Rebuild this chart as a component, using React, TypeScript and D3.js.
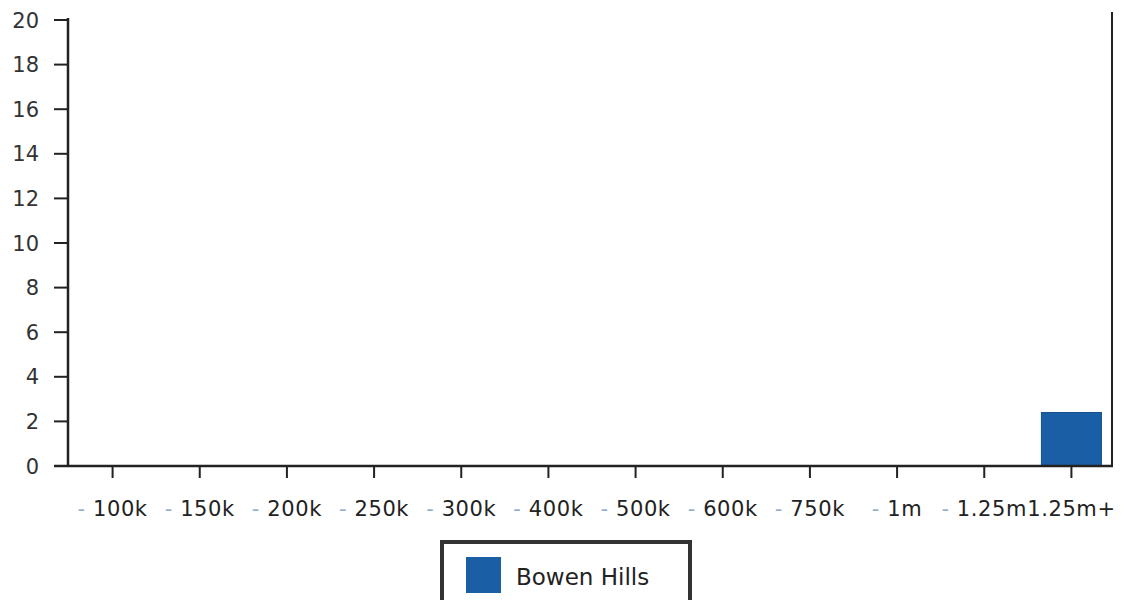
import React from "react";
import * as d3 from "d3";

const categories = ["100k", "150k", "200k", "250k", "300k", "400k", "500k", "600k", "750k", "1m", "1.25m", "1.25m+"];
const prefixes = ["- ", "- ", "- ", "- ", "- ", "- ", "- ", "- ", "- ", "- ", "- ", ""];
const values = [0, 0, 0, 0, 0, 0, 0, 0, 0, 0, 0, 2.4];
const yTicks = [0, 2, 4, 6, 8, 10, 12, 14, 16, 18, 20];
const seriesName = "Bowen Hills";

const W = 1124, H = 600;
const left = 68, right = 1112, top = 20, bottom = 466;

export default function App() {
  const xc = d3.scaleBand<string>().domain(categories).range([left + 1, right + 3]);
  const y = d3.scaleLinear().domain([0, 20]).range([bottom, top]);
  const font = "'DejaVu Sans', 'Liberation Sans', Arial, sans-serif";
  return (
    <svg width={W} height={H} style={{ position: "absolute", left: 0, top: 0, background: "#fff" }} fontFamily={font}>
      {categories.map((c, i) => values[i] > 0 ? (
        <rect key={c} x={xc(c)! + xc.bandwidth() / 2 - 30} width={60} y={y(values[i])} height={y(0) - y(values[i])} fill="#1a5fa6" stroke="#174f8c" strokeWidth={1} />
      ) : null)}
      <line x1={left} x2={left} y1={top - 2} y2={bottom} stroke="#222" strokeWidth={2.5} />
      {yTicks.map(t => (
        <g key={t}>
          <line x1={left - 14} x2={left} y1={y(t)} y2={y(t)} stroke="#222" strokeWidth={2} />
          <text x={39} y={y(t)} dy="0.36em" textAnchor="end" fontSize={21} fill="#333">{t}</text>
        </g>
      ))}
      <line x1={left - 14} x2={right + 1} y1={bottom} y2={bottom} stroke="#222" strokeWidth={2.5} />
      <line x1={right} x2={right} y1={12} y2={bottom + 1} stroke="#222" strokeWidth={2} />
      {categories.map((c, i) => {
        const cx = xc(c)! + xc.bandwidth() / 2;
        return (
          <g key={c}>
            <line x1={cx} x2={cx} y1={bottom} y2={bottom + 12} stroke="#222" strokeWidth={2} />
            <text x={cx} y={516} textAnchor="middle" fontSize={21} letterSpacing={0.6} fill="#222">
              {prefixes[i] ? <tspan fill="#8fb0d0">{prefixes[i]}</tspan> : null}
              {c}
            </text>
          </g>
        );
      })}
      <rect x={442} y={542} width={248} height={66} fill="#fff" stroke="#333" strokeWidth={4} />
      <rect x={466} y={557} width={35} height={36} fill="#1a5fa6" />
      <text x={516} y={585} fontSize={23} fill="#222">{seriesName}</text>
    </svg>
  );
}
